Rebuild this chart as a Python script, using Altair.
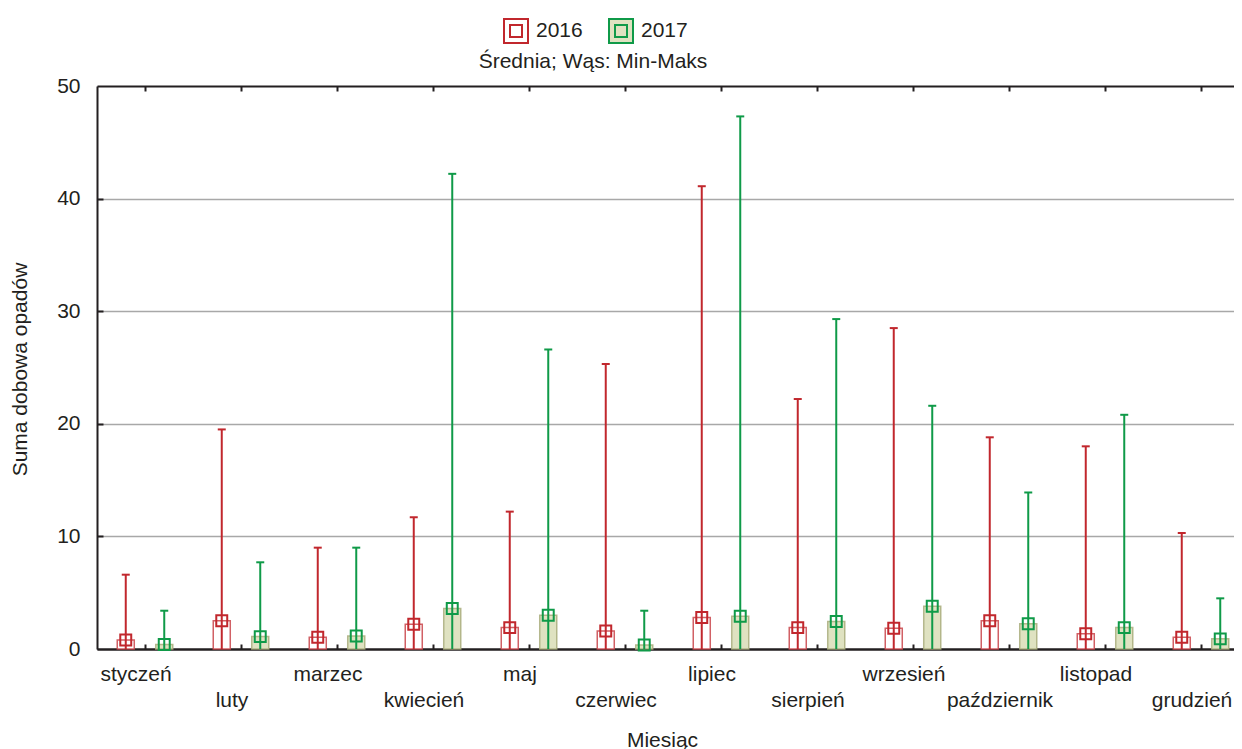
import altair as alt
import pandas as pd

months = ["styczeń", "luty", "marzec", "kwiecień", "maj", "czerwiec", "lipiec",
          "sierpień", "wrzesień", "październik", "listopad", "grudzień"]
years = ["2016", "2017"]
mean_2016 = [0.8, 2.5, 1.05, 2.2, 1.9, 1.6, 2.8, 1.9, 1.85, 2.5, 1.35, 1.05]
mean_2017 = [0.4, 1.1, 1.15, 3.6, 3.0, 0.35, 2.9, 2.45, 3.8, 2.25, 1.9, 0.9]
max_2016 = [6.6, 19.5, 9.0, 11.7, 12.2, 25.3, 41.1, 22.2, 28.5, 18.8, 18.0, 10.3]
max_2017 = [3.4, 7.7, 9.0, 42.2, 26.6, 3.4, 47.3, 29.3, 21.6, 13.9, 20.8, 4.5]
min_2016 = [0.0] * 12
min_2017 = [0.0] * 12
y_ticks = [0, 10, 20, 30, 40, 50]

rows = []
for i, m in enumerate(months):
    rows.append(dict(month=m, year="2016", mean=mean_2016[i], lo=min_2016[i], hi=max_2016[i]))
    rows.append(dict(month=m, year="2017", mean=mean_2017[i], lo=min_2017[i], hi=max_2017[i]))
df = pd.DataFrame(rows)

RED = "#c1272d"
GREEN = "#0f9a48"
OLIVE_FILL = "#dfe2c1"
OLIVE_STROKE = "#a9ad7c"
BAR_RED = "#c9444a"
FONT = "Liberation Sans"
TXT = "#231f20"
FS = 21

W, H = 1152, 563

xscale = alt.Scale(domain=months, paddingInner=0, paddingOuter=0)
yscale = alt.Scale(domain=[0, 50], nice=False, zero=True)
xoff = alt.XOffset("year:N", scale=alt.Scale(domain=years, paddingInner=0.558, paddingOuter=0.526))

month_list = "[" + ",".join("'%s'" % m for m in months) + "]"
label_expr = f"indexof({month_list}, datum.value) % 2 == 1 ? ['', datum.value] : datum.value"

ax_main_x = alt.Axis(
    orient="bottom", title="Miesiąc", labelExpr=label_expr, labelAngle=0,
    labelBaseline="top", labelPadding=14, labelLineHeight=26, labelOffset=-9,
    labelOverlap=False, labelFont=FONT, labelFontSize=FS, labelColor=TXT,
    ticks=False, domain=True, domainColor=TXT, domainWidth=2, grid=False,
    titleX=565, titleY=91, titleBaseline="middle", titleAlign="center",
    titleFont=FONT, titleFontSize=FS, titleFontWeight="normal", titleColor=TXT,
)
ax_tick_bottom = alt.Axis(
    orient="bottom", offset=-5, tickSize=5, tickWidth=2, tickColor=TXT,
    domain=False, labels=False, grid=False, title=None,
)
ax_tick_top = alt.Axis(
    orient="top", offset=-5, tickSize=5, tickWidth=2, tickColor=TXT,
    domain=False, labels=False, grid=False, title=None,
)
edge = "datum.value == 0 || datum.value == 50"
ax_main_y = alt.Axis(
    orient="left", values=y_ticks, title="Suma dobowa opadów",
    grid=True,
    gridColor=alt.condition(edge, alt.value(TXT), alt.value("#a8a8a8")),
    gridWidth=alt.condition(edge, alt.value(2), alt.value(1.5)),
    ticks=False, domain=True, domainColor=TXT, domainWidth=2,
    labelPadding=17, labelFont=FONT, labelFontSize=FS, labelColor=TXT,
    titleX=-77, titleY=283, titleBaseline="middle", titleAlign="center",
    titleFont=FONT, titleFontSize=FS, titleFontWeight="normal", titleColor=TXT,
)
ax_tick_left = alt.Axis(
    orient="left", offset=-6, tickSize=6, tickWidth=2, tickColor=TXT,
    values=[10, 20, 30, 40], domain=False, labels=False, grid=False, title=None,
)

legend = alt.Legend(
    orient="none", legendX=406, legendY=-68, direction="horizontal", title=None,
    symbolType="M-1,-1H1V1H-1Z M-0.5,-0.5H0.5V0.5H-0.5Z", symbolSize=576,
    symbolStrokeWidth=2, labelFont=FONT, labelFontSize=FS, labelColor=TXT,
    labelOffset=7, columnPadding=22,
)

base = alt.Chart(df)

bars = base.mark_bar(strokeWidth=1.5, strokeOpacity=0.85).encode(
    x=alt.X("month:N", scale=xscale, sort=months, axis=ax_main_x),
    xOffset=xoff,
    y=alt.Y("mean:Q", scale=yscale, axis=ax_main_y),
    fill=alt.Fill("year:N", scale=alt.Scale(domain=years, range=["#ffffff", OLIVE_FILL]), legend=legend),
    stroke=alt.condition("datum.year == '2016'", alt.value(BAR_RED), alt.value(OLIVE_STROKE)),
)

rules = base.mark_rule(strokeWidth=2).encode(
    x=alt.X("month:N", scale=xscale, sort=months, axis=ax_tick_bottom),
    xOffset=xoff,
    y=alt.Y("lo:Q", scale=yscale, axis=ax_tick_left),
    y2="hi:Q",
    stroke=alt.Stroke("year:N", scale=alt.Scale(domain=years, range=[RED, GREEN]), legend=legend),
)

caps = base.mark_tick(thickness=2, size=8, opacity=1).encode(
    x=alt.X("month:N", scale=xscale, sort=months, axis=ax_tick_top),
    xOffset=xoff,
    y=alt.Y("hi:Q", scale=yscale, axis=None),
    color=alt.condition("datum.year == '2016'", alt.value(RED), alt.value(GREEN)),
)

markers = base.mark_point(shape="square", filled=False, size=120, strokeWidth=2, opacity=1).encode(
    x=alt.X("month:N", scale=xscale, sort=months, axis=None),
    xOffset=xoff,
    y=alt.Y("mean:Q", scale=yscale, axis=None),
    stroke=alt.Stroke("year:N", scale=alt.Scale(domain=years, range=[RED, GREEN]), legend=legend),
)

chart = alt.layer(bars, rules, caps, markers).resolve_axis(
    x="independent", y="independent"
).properties(
    width=W, height=H,
    autosize=alt.AutoSizeParams(type="none"),
    padding={"left": 89, "top": 78, "right": -15, "bottom": 100},
    title=alt.TitleParams(
        "Średnia; Wąs: Min-Maks", font=FONT, fontSize=FS, fontWeight="normal",
        color=TXT, anchor="middle", frame="group", dx=-80, dy=68, offset=14,
    ),
).configure_view(stroke=None).configure(font=FONT)

chart.save("out.html", embed_options={"renderer": "svg", "actions": False})
